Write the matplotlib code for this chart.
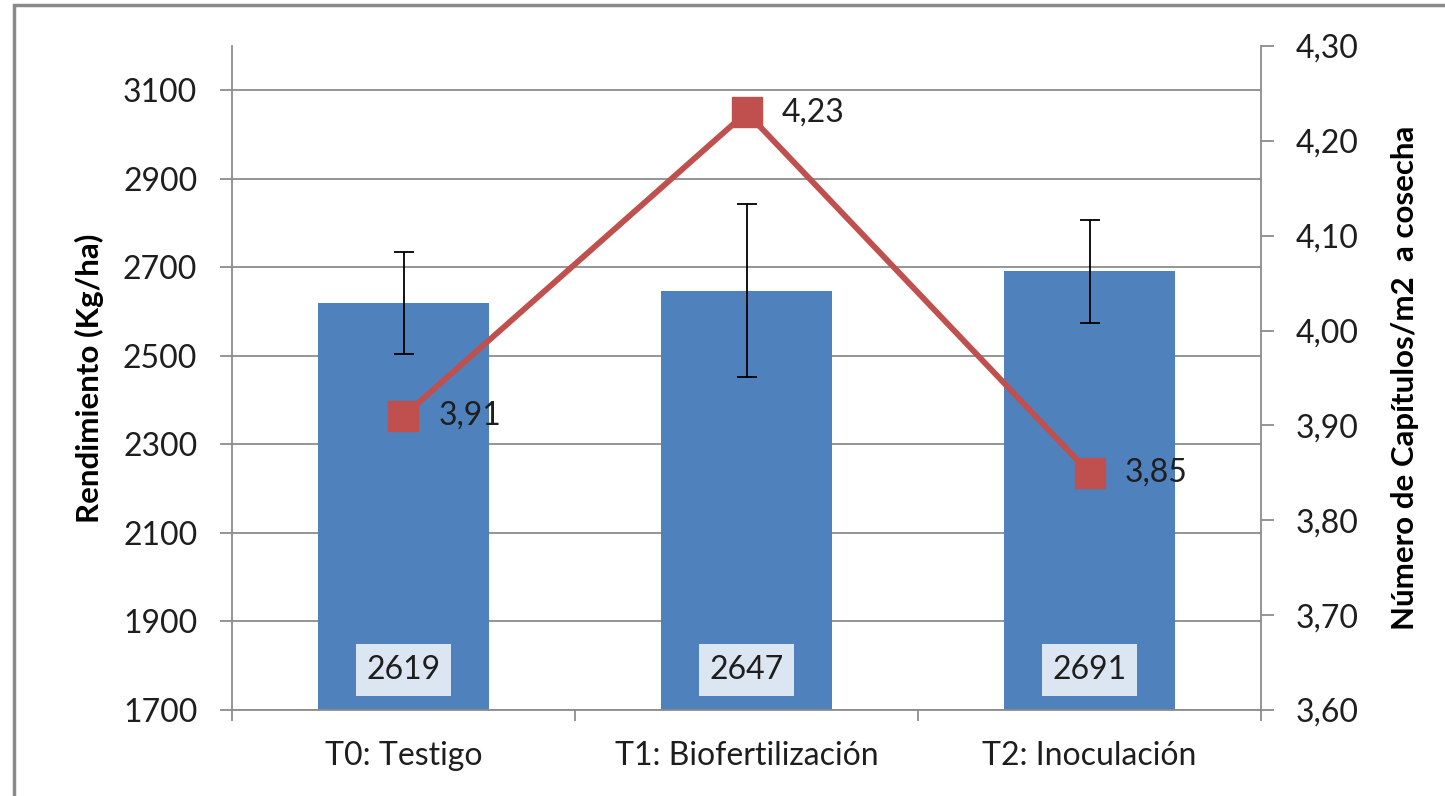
"""
Rendimiento vs número de capítulos — barras con error y línea en eje secundario.
"""

import matplotlib.pyplot as plt
from matplotlib.patches import Rectangle
from matplotlib.ticker import FixedLocator, FuncFormatter

plt.rcParams['font.family'] = ['Lato', 'DejaVu Sans']

# --- Data ---
treatments = ["T0: Testigo", "T1: Biofertilización", "T2: Inoculación"]
yield_kg = [2619, 2647, 2691]
yield_err = [115, 195, 117]
capitulos = [3.91, 4.23, 3.85]

left_ticks = [1700, 1900, 2100, 2300, 2500, 2700, 2900, 3100]
right_ticks = [3.60, 3.70, 3.80, 3.90, 4.00, 4.10, 4.20, 4.30]

bar_color = "#4F81BD"
line_color = "#C0504D"
grid_color = "#8C8C8C"
text_color = "#1E1E1E"
fs = 23

fig = plt.figure(figsize=(14.45, 7.96), dpi=100)
ax = fig.add_axes([232 / 1445, 1 - 710 / 796, 1029 / 1445, 664 / 796])

# outer chart frame (cut off right/bottom like the original)
fig.patches.append(Rectangle((14 / 1445, -0.2), 2, 1.2 - 5 / 796,
                             transform=fig.transFigure, fill=False,
                             edgecolor="#8A8A8A", linewidth=2.5))

x = list(range(len(treatments)))
ax.bar(x, yield_kg, width=0.5, color=bar_color, zorder=2)
ax.errorbar(x, yield_kg, yerr=yield_err, fmt="none", ecolor="black",
            elinewidth=1.3, capsize=7, capthick=1.3, zorder=3)

# bar value labels near the base
for xi, v in zip(x, yield_kg):
    ax.annotate(f"{v}", (xi, 1700), xytext=(0, 29), textcoords="offset points",
                ha="center", va="center", fontsize=fs, color=text_color, zorder=4,
                bbox=dict(boxstyle="square,pad=0.34", facecolor="#DCE6F2",
                          edgecolor="none"))

ax.set_xlim(-0.5, 2.5)
ax.set_ylim(1700, 3200)
ax.yaxis.set_major_locator(FixedLocator(left_ticks))
ax.grid(axis="y", color=grid_color, linewidth=1.3, zorder=0)
ax.set_axisbelow(True)

ax.set_xticks(x)
ax.set_xticklabels(treatments, fontsize=fs, color=text_color)
ax.xaxis.set_minor_locator(FixedLocator([-0.5, 0.5, 1.5, 2.5]))
ax.tick_params(axis="x", which="major", length=0, pad=22)
ax.tick_params(axis="x", which="minor", length=8, width=1.3, color=grid_color)
ax.tick_params(axis="y", length=9, width=1.3, color=grid_color, labelsize=fs,
               labelcolor=text_color, pad=16)

for side in ["top", "right"]:
    ax.spines[side].set_visible(False)
for side in ["left", "bottom"]:
    ax.spines[side].set_color(grid_color)
    ax.spines[side].set_linewidth(1.3)

ax.set_ylabel("Rendimiento (Kg/ha)", fontsize=22.5, fontweight="bold", color="black")
ax.yaxis.set_label_coords(-0.124, 0.5)

# --- secondary axis: number of capitulos ---
ax2 = ax.twinx()
ax2.plot(x, capitulos, color=line_color, linewidth=4.2, marker="s",
         markersize=22, zorder=5)
for xi, v in zip(x, capitulos):
    ax2.annotate(f"{v:.2f}".replace(".", ","), (xi, v), xytext=(25, 0),
                 textcoords="offset points", ha="left", va="center",
                 fontsize=fs, color=text_color)

ax2.set_ylim(3.6, 4.3)
ax2.yaxis.set_major_locator(FixedLocator(right_ticks))
ax2.yaxis.set_major_formatter(FuncFormatter(lambda v, p: f"{v:.2f}".replace(".", ",")))
ax2.tick_params(axis="y", length=9, width=1.3, color=grid_color, labelsize=fs,
                labelcolor=text_color, pad=16)
for side in ["top", "left", "bottom"]:
    ax2.spines[side].set_visible(False)
ax2.spines["right"].set_color(grid_color)
ax2.spines["right"].set_linewidth(1.3)

ax2.set_ylabel("Número de Capítulos/m2  a cosecha", fontsize=22.5,
               fontweight="bold", color="black")
ax2.yaxis.set_label_coords(1.126, 0.5)

fig.savefig("out.png", dpi=100)
